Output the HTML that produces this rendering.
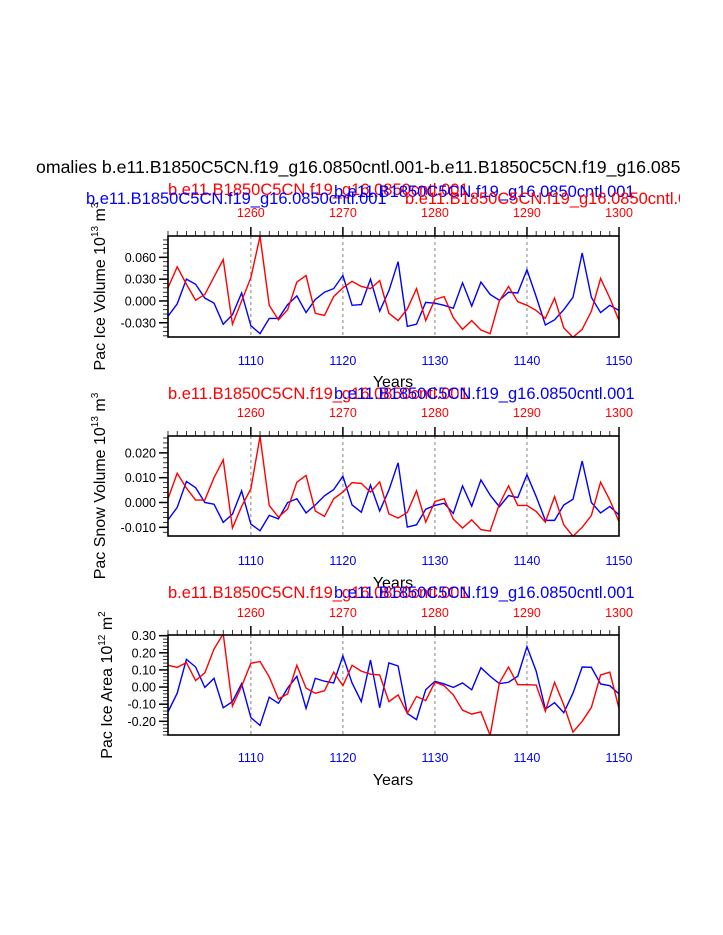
<!DOCTYPE html>
<html><head><meta charset="utf-8"><style>
html,body{margin:0;padding:0;background:#fff;}
svg{display:block;font-family:"Liberation Sans",sans-serif;}
</style></head><body>
<svg id="chart" width="723" height="935" viewBox="0 0 723 935" xmlns="http://www.w3.org/2000/svg">
<defs><clipPath id="page-clip"><rect x="30" y="0" width="650" height="935"/></clipPath></defs>
<text x="36" y="173" font-size="17.7" clip-path="url(#page-clip)">omalies b.e11.B1850C5CN.f19_g16.0850cntl.001-b.e11.B1850C5CN.f19_g16.085</text>
</svg>
<script>
const years = [];
for (let y = 1101; y <= 1150; y++) years.push(y);
const bottomTicks = [1110,1120,1130,1140,1150];
const topTicks = [1260,1270,1280,1290,1300];
const iceVolBlue = [-0.021,-0.004,0.030,0.023,0.004,-0.003,-0.032,-0.019,0.011,-0.034,-0.045,-0.024,-0.024,-0.005,0.007,-0.016,0.002,0.012,0.017,0.035,-0.006,-0.005,0.030,-0.014,0.014,0.054,-0.035,-0.032,-0.002,-0.003,-0.006,-0.010,0.025,-0.007,0.026,0.009,0.001,0.012,0.011,0.043,0.006,-0.033,-0.026,-0.012,0.005,0.066,0.005,-0.016,-0.006,-0.013];
const iceVolRed = [0.018,0.047,0.023,0.001,0.009,0.033,0.057,-0.032,0.000,0.032,0.089,-0.006,-0.026,-0.012,0.026,0.035,-0.017,-0.020,0.006,0.018,0.027,0.020,0.017,0.028,-0.017,-0.027,-0.011,0.017,-0.027,0.002,0.006,-0.023,-0.039,-0.027,-0.040,-0.045,0.000,0.020,-0.001,-0.006,-0.013,-0.024,0.004,-0.037,-0.050,-0.039,-0.014,0.031,0.004,-0.027];
const snowBlue = [-0.007,-0.002,0.0085,0.006,0,-0.0007,-0.008,-0.0047,0.0047,-0.0087,-0.0114,-0.0052,-0.0066,0,0.0015,-0.0042,-0.001,0.0027,0.0052,0.0106,-0.001,-0.0039,0.007,-0.0034,0.005,0.016,-0.0099,-0.009,-0.0027,-0.0012,-0.0003,-0.0044,0.0067,-0.0015,0.0091,0.003,-0.0017,0.0028,0.002,0.0112,0.0024,-0.0072,-0.0072,-0.001,0.0013,0.0167,0,-0.0042,-0.0016,-0.005];
const snowRed = [0.0015,0.0118,0.0058,0.001,0.001,0.010,0.0172,-0.0103,-0.0016,0.0055,0.0266,-0.0012,-0.0059,-0.0026,0.0082,0.0109,-0.0034,-0.0056,0.0015,0.0042,0.008,0.0077,0.0042,0.0083,-0.0046,-0.0063,-0.004,0.0047,-0.0079,0.0004,0.0015,-0.0067,-0.0103,-0.007,-0.0109,-0.0115,-0.0007,0.0067,-0.0012,-0.0012,-0.0036,-0.0079,0.0024,-0.009,-0.0136,-0.010,-0.0052,0.0082,0.001,-0.0077];
const areaBlue = [-0.145,-0.036,0.162,0.117,-0.002,0.051,-0.121,-0.085,0.02,-0.178,-0.224,-0.059,-0.095,-0.006,0.063,-0.125,0.051,0.034,0.024,0.182,0.024,-0.085,0.158,-0.121,0.141,0.123,-0.154,-0.19,-0.016,0.034,0.018,-0.002,0.024,-0.016,0.113,0.063,0.02,0.028,0.063,0.236,0.093,-0.129,-0.091,-0.15,-0.036,0.117,0.115,0.018,0.008,-0.04];
const areaRed = [0.127,0.115,0.143,0.038,0.083,0.222,0.311,-0.111,0.004,0.139,0.149,0.059,-0.069,-0.04,0.127,-0.006,-0.036,-0.022,0.087,0.008,0.127,0.093,0.075,0.071,-0.085,-0.046,-0.154,-0.055,-0.079,0.028,0.008,-0.046,-0.135,-0.158,-0.145,-0.283,0.024,0.117,0.014,0.014,0.012,-0.141,0.028,-0.105,-0.263,-0.2,-0.119,0.071,0.087,-0.125];
const volTicks = [-0.030,0.000,0.030,0.060];
const volLabels = ["-0.030","0.000","0.030","0.060"];
const snowTicks = [-0.010,0.000,0.010,0.020];
const snowLabels = ["-0.010","0.000","0.010","0.020"];
const areaTicks = [-0.20,-0.10,0.00,0.10,0.20,0.30];
const areaLabels = ["-0.20","-0.10","0.00","0.10","0.20","0.30"];

const NS = "http://www.w3.org/2000/svg";
const svg = document.getElementById('chart');
const X0 = 168, X1 = 619;
function xs(yr){ return X0 + (yr - 1101) / 49 * (X1 - X0); }
function mk(tag, attrs, parent){
  const e = document.createElementNS(NS, tag);
  for (const k in attrs) e.setAttribute(k, attrs[k]);
  (parent || svg).appendChild(e);
  return e;
}
function txt(s, attrs, parent){ const e = mk('text', attrs, parent); e.textContent = s; return e; }

function panel(id, top, bottom, vmin, vmax, ticks, labels, minorStep, blue, red, ylab, sup, unit, usup, ylabX, subs, topLblY, botLblY, yearsY){
  const g = mk('g', {});
  
  
  const ys = v => bottom - (v - vmin) / (vmax - vmin) * (bottom - top);
  subs.forEach(s => {
    const t = txt(s.t, {x: s.x, y: s.y, 'font-size': 16.5, fill: s.c, 'clip-path': 'url(#page-clip)'}, g);
    
    
  });
  [1110,1120,1130,1140].forEach(yr => {
    const l = mk('line', {x1: xs(yr), x2: xs(yr), y1: top, y2: bottom, stroke: '#999', 'stroke-width': 1.2, 'stroke-dasharray': '3,3'}, g);
    
    
  });
  years.forEach(yr => {
    const major = (yr % 10 === 0);
    mk('line', {x1: xs(yr), x2: xs(yr), y1: top, y2: top - (major ? 9 : 5), stroke: '#000', 'stroke-width': major ? 1.5 : 0.8}, g);
  });
  topTicks.forEach(t => {
    const e = txt(String(t), {x: xs(t - 150), y: topLblY, 'font-size': 12.5, fill: '#f00', 'text-anchor': 'middle'}, g);
    
    
  });
  bottomTicks.forEach(t => {
    const e = txt(String(t), {x: xs(t), y: botLblY, 'font-size': 12.5, fill: '#00f', 'text-anchor': 'middle'}, g);
    
    
  });
  for (let v = Math.ceil(vmin / minorStep) * minorStep; v <= vmax + 1e-9; v += minorStep) {
    mk('line', {x1: X0, x2: X0 - 5, y1: ys(v), y2: ys(v), stroke: '#000', 'stroke-width': 0.8}, g);
  }
  ticks.forEach((v, i) => {
    mk('line', {x1: X0, x2: X0 - 9, y1: ys(v), y2: ys(v), stroke: '#000', 'stroke-width': 1.5}, g);
    const e = txt(labels[i], {x: X0 - 12, y: ys(v) + 4.5, 'font-size': 12.5, 'text-anchor': 'end'}, g);
    
    
  });
  const clipId = id + '-clip';
  const cp = mk('clipPath', {id: clipId}, g);
  mk('rect', {x: X0, y: top, width: X1 - X0, height: bottom - top}, cp);
  [[blue, '#00f', 'blue'], [red, '#f00', 'red']].forEach(([arr, c, nm]) => {
    const d = arr.map((v, i) => (i ? 'L' : 'M') + xs(years[i]).toFixed(2) + ',' + ys(v).toFixed(2)).join(' ');
    const p = mk('path', {d: d, fill: 'none', stroke: c, 'stroke-width': 1.4, 'clip-path': 'url(#' + clipId + ')'}, g);
    
    
  });
  const fr = mk('rect', {x: X0, y: top, width: X1 - X0, height: bottom - top, fill: 'none', stroke: '#000', 'stroke-width': 1.6}, g);
  
  
  const cy = (top + bottom) / 2;
  const yt = mk('text', {x: ylabX, y: cy, 'font-size': 16, 'text-anchor': 'middle', transform: 'rotate(-90 ' + ylabX + ' ' + cy + ')'}, g);
  
  
  yt.appendChild(document.createTextNode(ylab + ' 10'));
  const s1 = document.createElementNS(NS, 'tspan'); s1.setAttribute('font-size', '10'); s1.setAttribute('dy', '-7'); s1.textContent = sup; yt.appendChild(s1);
  const s2 = document.createElementNS(NS, 'tspan'); s2.setAttribute('dy', '7'); s2.textContent = ' ' + unit; yt.appendChild(s2);
  const s3 = document.createElementNS(NS, 'tspan'); s3.setAttribute('font-size', '10'); s3.setAttribute('dy', '-7'); s3.textContent = usup; yt.appendChild(s3);
  const xt = txt('Years', {x: 393, y: yearsY, 'font-size': 16, 'text-anchor': 'middle'}, g);
  
  
}
const NM = 'b.e11.B1850C5CN.f19_g16.0850cntl.001';
panel('ice-volume', 236, 337, -0.0496, 0.0894, volTicks, volLabels, 0.006, iceVolBlue, iceVolRed, 'Pac Ice Volume', '13', 'm', '3', 105,
  [{t: NM, x: 168, y: 195, c: '#f00'}, {t: NM, x: 334, y: 197, c: '#00f'}, {t: NM, x: 86, y: 204, c: '#00f'}, {t: NM, x: 405, y: 204, c: '#f00'}], 217, 365, 387);
panel('snow-volume', 436, 536, -0.0135, 0.0268, snowTicks, snowLabels, 0.002, snowBlue, snowRed, 'Pac Snow Volume', '13', 'm', '3', 105,
  [{t: NM, x: 168, y: 399, c: '#f00'}, {t: NM, x: 334, y: 399, c: '#00f'}], 417, 565, 588);
panel('ice-area', 635, 735, -0.28, 0.304, areaTicks, areaLabels, 0.02, areaBlue, areaRed, 'Pac Ice Area', '12', 'm', '2', 112,
  [{t: NM, x: 168, y: 598, c: '#f00'}, {t: NM, x: 334, y: 598, c: '#00f'}], 617, 762, 785);
</script>
</body></html>
